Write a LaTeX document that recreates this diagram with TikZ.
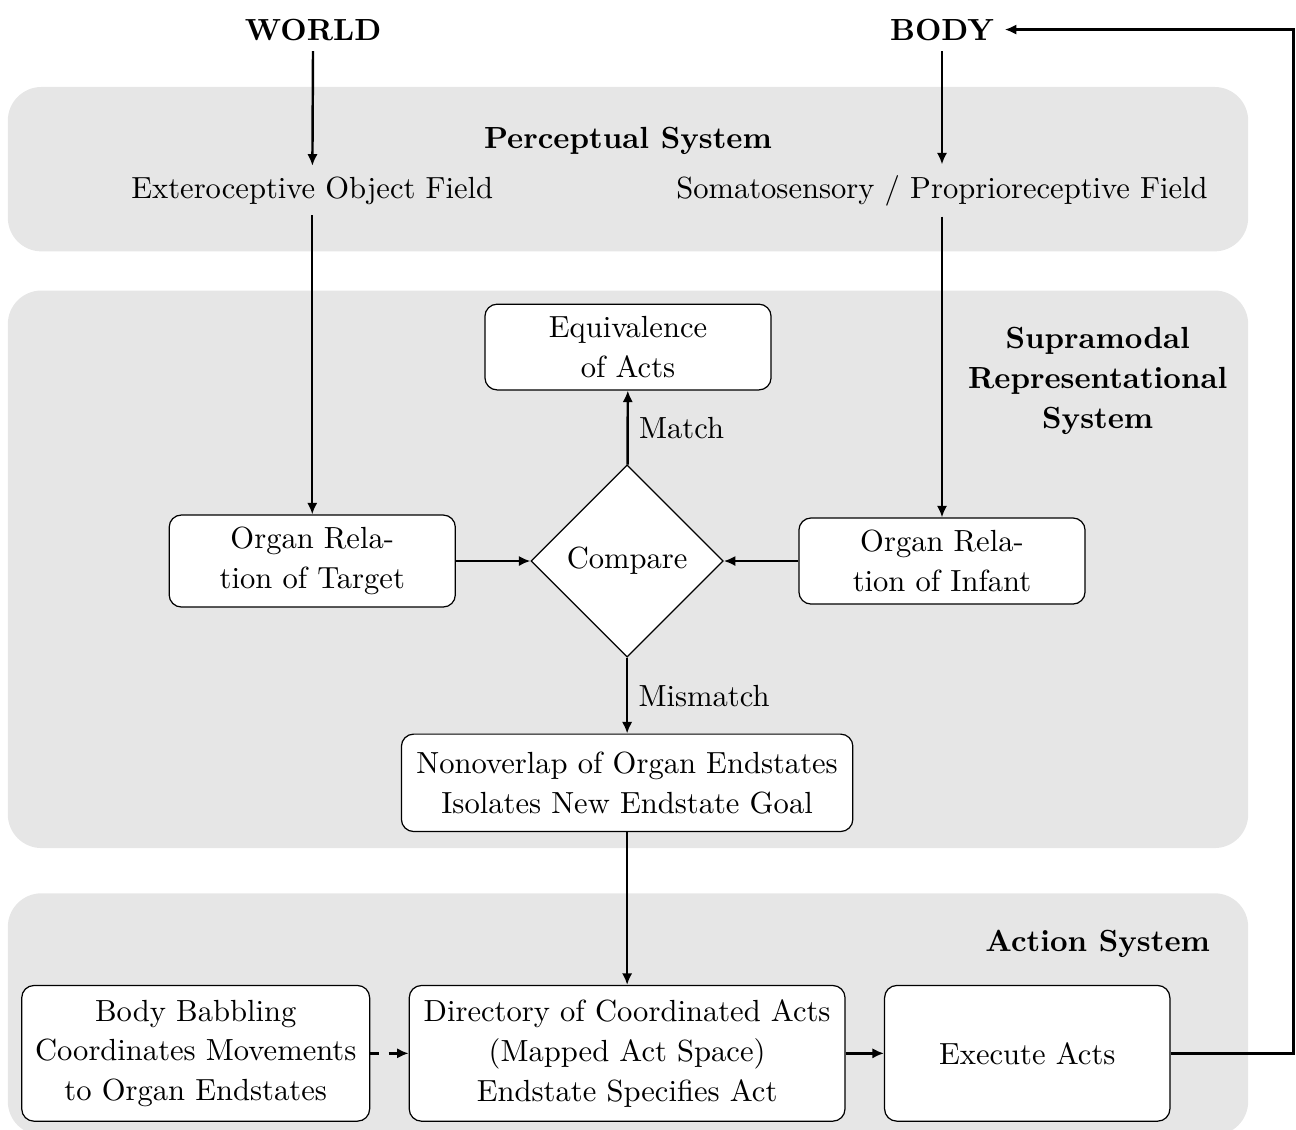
\documentclass[tikz,border=0pt]{standalone}
\usepackage{tikz}
\usetikzlibrary{arrows.meta,positioning,shapes.geometric,backgrounds}
\usepackage{xcolor}
\definecolor{panelgray}{RGB}{230,230,230}
\tikzset{
  panel/.style={fill=panelgray,rounded corners=11pt},
  box/.style={draw,rounded corners=4pt,fill=white,align=center,inner sep=4pt},
  cmpbox/.style={draw,diamond,aspect=1,fill=white,minimum size=2.21cm,inner sep=0pt},
  head/.style={font=\bfseries,align=center},
  arr/.style={-{Latex[length=3.8pt,width=3.4pt]},thick},
}

\begin{document}
\begin{tikzpicture}
  \useasboundingbox (0,0) rectangle (14.9,12.98);
  % sources
  \node[head] (world) at (3.60,12.64) {WORLD};
  \node[head] (body) at (10.83,12.64) {BODY};

  % perceptual system
  \node[head] (perc) at (7.22,11.36) {Perceptual System};
  \node (ext) at (3.59,10.79) {Exteroceptive Object Field};
  \node (soma) at (10.83,10.79) {Somatosensory / Proprioreceptive Field};

  % supramodal representational system
  \node[head] (supra) at (12.62,8.60) {Supramodal\\[1pt]Representational\\[1pt]System};
  \node[box,minimum width=3.29cm,minimum height=0.93cm] (equiv) at (7.22,8.99)
    {Equivalence\\[1pt]of Acts};
  \node[cmpbox] (cmp) at (7.21,6.53) {Compare};
  \node[box,minimum width=3.29cm,minimum height=1.0cm] (tgt) at (3.59,6.53)
    {Organ Rela-\\[1pt]tion of Target};
  \node[box,minimum width=3.29cm,minimum height=0.93cm] (inf) at (10.83,6.53)
    {Organ Rela-\\[1pt]tion of Infant};
  \node[box,minimum width=5.19cm,minimum height=1.12cm] (nonov) at (7.21,3.98)
    {Nonoverlap of Organ Endstates\\[1pt]Isolates New Endstate Goal};

  % action system
  \node[head] (actlbl) at (12.62,2.13) {Action System};
  \node[box,minimum width=4.0cm,minimum height=1.56cm] (babb) at (2.25,0.87)
    {Body Babbling\\[1pt]Coordinates Movements\\[1pt]to Organ Endstates};
  \node[box,minimum width=5.01cm,minimum height=1.56cm] (dir) at (7.21,0.87)
    {Directory of Coordinated Acts\\[1pt](Mapped Act Space)\\[1pt]Endstate Specifies Act};
  \node[box,minimum width=3.28cm,minimum height=1.56cm] (exec) at (11.81,0.87)
    {Execute Acts};
  \coordinate (fb) at (14.87,0.87);

  \begin{scope}[on background layer]
    \fill[panel] (0.09,11.98) rectangle (14.35,10.09);
    \fill[panel] (0.09,9.64) rectangle (14.35,3.23);
    \fill[panel] (0.09,2.71) rectangle (14.35,-0.07);
  \end{scope}

  \draw[arr] (world) -- (ext);
  \draw[arr] (body) -- (soma);
  \draw[arr] (ext) -- (tgt);
  \draw[arr] (soma) -- (inf);
  \draw[arr] (tgt) -- (cmp);
  \draw[arr] (inf) -- (cmp);
  \draw[arr] (cmp) -- node[right] {Match} (equiv);
  \draw[arr] (cmp) -- node[right] {Mismatch} (nonov);
  \draw[arr] (nonov) -- (dir);
  \draw[arr,dashed] (babb) -- (dir);
  \draw[arr] (dir) -- (exec);
  \draw[arr] (exec) -- (fb) |- (body);
\end{tikzpicture}
\end{document}
